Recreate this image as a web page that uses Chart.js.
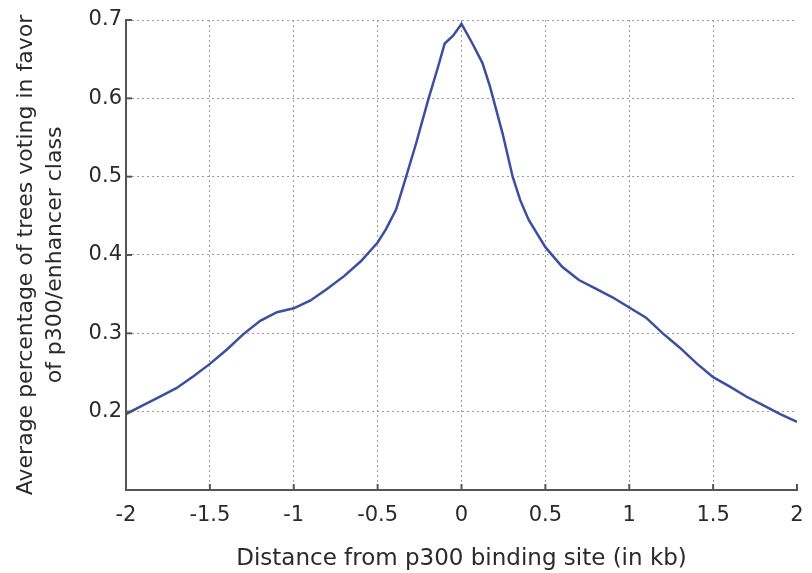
<!DOCTYPE html>
<html>
<head>
<meta charset="utf-8">
<script src="https://cdn.jsdelivr.net/npm/chart.js@4/dist/chart.umd.min.js"></script>
<style>
  html, body { margin: 0; padding: 0; background: #fff; }
  #wrap { width: 812px; height: 573px; }
</style>
</head>
<body>
<div id="wrap"><canvas id="votes"></canvas></div>
<script>
// distance from p300 site (kb) and average vote fraction
var distKb = [-2.0, -1.9, -1.8, -1.7, -1.6, -1.5, -1.4, -1.3, -1.2, -1.1, -1.0, -0.9, -0.8, -0.7, -0.6, -0.5, -0.45, -0.39,
              -0.33, -0.27, -0.2, -0.14, -0.1, -0.05, 0.0, 0.065, 0.125, 0.17, 0.245, 0.305, 0.35, 0.4, 0.5, 0.6, 0.7, 0.8, 0.9,
              1.0, 1.1, 1.2, 1.3, 1.4, 1.5, 1.6, 1.7, 1.8, 1.9, 2.0];
var avgVote = [0.197, 0.208, 0.219, 0.230, 0.245, 0.261, 0.279, 0.299, 0.316, 0.327, 0.332, 0.342, 0.357, 0.373, 0.392, 0.416, 0.433, 0.458,
               0.500, 0.543, 0.597, 0.640, 0.670, 0.680, 0.695, 0.670, 0.645, 0.615, 0.555, 0.500, 0.470, 0.445, 0.410, 0.385, 0.368, 0.357, 0.346,
               0.333, 0.320, 0.300, 0.282, 0.262, 0.244, 0.232, 0.219, 0.208, 0.197, 0.187];
var xTicks = [-2, -1.5, -1, -0.5, 0, 0.5, 1, 1.5, 2];
var yTicks = [0.1, 0.2, 0.3, 0.4, 0.5, 0.6, 0.7];

var points = distKb.map(function (d, i) { return { x: d, y: avgVote[i] }; });

// matlab style inward tick marks
var inwardTicks = {
    id: 'inwardTicks',
    afterDraw: function (chart) {
        var c = chart.ctx, a = chart.chartArea;
        var sx = chart.scales.x, sy = chart.scales.y;
        c.save();
        c.strokeStyle = '#555';
        c.lineWidth = 2;
        xTicks.forEach(function (t) {
            var px = sx.getPixelForValue(t);
            c.beginPath(); c.moveTo(px, a.bottom); c.lineTo(px, a.bottom - 6); c.stroke();
        });
        yTicks.forEach(function (t) {
            var py = sy.getPixelForValue(t);
            c.beginPath(); c.moveTo(a.left, py); c.lineTo(a.left + 6, py); c.stroke();
        });
        c.restore();
    }
};

var font = "'DejaVu Sans', Verdana, sans-serif";

new Chart(document.getElementById('votes').getContext('2d'), {
    type: 'line',
    data: {
        datasets: [{
            data: points,
            borderColor: '#3a4f9f',
            borderWidth: 2.5,
            pointRadius: 0,
            tension: 0,
            fill: false
        }]
    },
    options: {
        responsive: true,
        maintainAspectRatio: false,
        animation: false,
        layout: { padding: { top: 20, right: 0, left: 0, bottom: 0 } },
        plugins: { legend: { display: false }, tooltip: { enabled: false } },
        scales: {
            x: {
                type: 'linear',
                min: -2,
                max: 2,
                afterBuildTicks: function (s) { s.ticks = xTicks.map(function (v) { return { value: v }; }); },
                afterFit: function (s) { s.height = 83; s.paddingRight = 15; },
                grid: {
                    color: function (ctx) { return (ctx.tick && (ctx.tick.value === 2 || ctx.tick.value === -2)) ? 'rgba(0,0,0,0)' : '#9a9a9a'; },
                    lineWidth: 1,
                    drawTicks: false
                },
                border: { color: '#555', width: 2, dash: [2, 3] },
                ticks: {
                    color: '#2a2a2a',
                    padding: 13,
                    maxRotation: 0,
                    font: { family: font, size: 21 },
                    callback: function (v) { return String(v); }
                },
                title: {
                    display: true,
                    text: 'Distance from p300 binding site (in kb)',
                    color: '#2a2a2a',
                    font: { family: font, size: 23 },
                    padding: { top: 1, bottom: 0 }
                }
            },
            y: {
                min: 0.1,
                max: 0.7,
                afterBuildTicks: function (s) { s.ticks = yTicks.map(function (v) { return { value: v }; }); },
                afterFit: function (s) { s.width = 126; },
                grid: {
                    color: function (ctx) { return (ctx.tick && ctx.tick.value === 0.1) ? 'rgba(0,0,0,0)' : '#9a9a9a'; },
                    lineWidth: 1,
                    drawTicks: false
                },
                border: { color: '#555', width: 2, dash: [2, 3] },
                ticks: {
                    color: '#2a2a2a',
                    padding: 4,
                    font: { family: font, size: 21 },
                    callback: function (v) { return v === 0.1 ? '' : v.toFixed(1); }
                },
                title: {
                    display: true,
                    text: ['Average percentage of trees voting in favor', 'of p300/enhancer class'],
                    color: '#2a2a2a',
                    font: { family: font, size: 22, lineHeight: 1.3 },
                    padding: { top: 12, bottom: 0 }
                }
            }
        }
    },
    plugins: [inwardTicks]
});
</script>
</body>
</html>
